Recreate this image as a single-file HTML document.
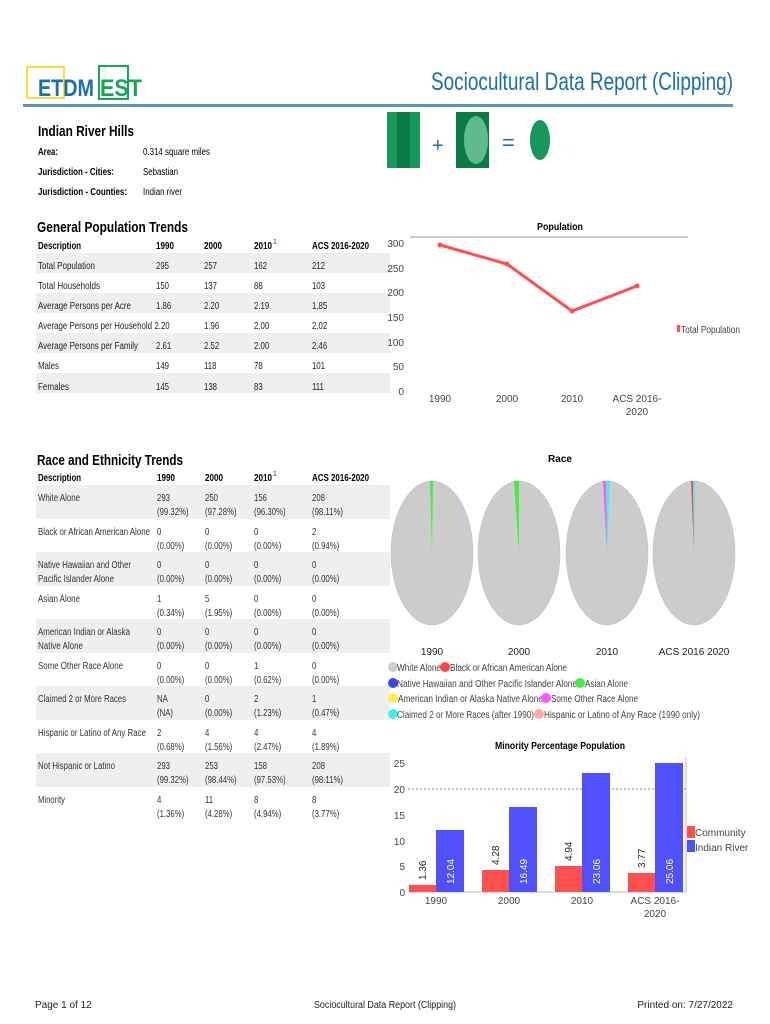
<!DOCTYPE html>
<html><head><meta charset="utf-8"><style>
html,body{margin:0;padding:0;background:#fff}
svg{display:block}
text{font-family:"Liberation Sans",sans-serif}
</style></head><body>
<svg width="770" height="1024" viewBox="0 0 770 1024" xmlns="http://www.w3.org/2000/svg">
<rect x="27" y="67" width="37" height="31" fill="none" stroke="#f5d000" stroke-width="1.5"/>
<text x="38" y="96" font-size="24" font-weight="bold" fill="#1b6fae" textLength="56" lengthAdjust="spacingAndGlyphs">ETDM</text>
<rect x="99" y="66" width="29" height="33" fill="none" stroke="#1aa35a" stroke-width="2"/>
<text x="100" y="96" font-size="24" font-weight="bold" fill="#1aa35a" textLength="42" lengthAdjust="spacingAndGlyphs">EST</text>
<text x="733" y="90" font-size="25" fill="#1b6fae" text-anchor="end" textLength="302" lengthAdjust="spacingAndGlyphs">Sociocultural Data Report (Clipping)</text>
<rect x="23" y="104" width="710" height="3" fill="#5b94bd"/>
<rect x="387" y="112" width="33" height="56" fill="#17975a"/>
<rect x="397" y="112" width="13" height="56" fill="#0c7a45"/>
<text x="432" y="152" font-size="20" fill="#1b6fae">+</text>
<rect x="456" y="112" width="33" height="56" fill="#0c7a45"/>
<ellipse cx="476" cy="140" rx="12" ry="24" fill="#5fba8c"/>
<text x="502" y="150" font-size="22" fill="#1b6fae">=</text>
<ellipse cx="540" cy="140" rx="10" ry="20" fill="#17975a"/>
<text x="38" y="136" font-size="15" font-weight="bold" textLength="96" lengthAdjust="spacingAndGlyphs">Indian River Hills</text>
<g font-size="10">
<text x="38" y="155" font-weight="bold" textLength="20" lengthAdjust="spacingAndGlyphs">Area:</text>
<text x="38" y="175" font-weight="bold" textLength="76" lengthAdjust="spacingAndGlyphs">Jurisdiction - Cities:</text>
<text x="38" y="195" font-weight="bold" textLength="89" lengthAdjust="spacingAndGlyphs">Jurisdiction - Counties:</text>
<text x="143" y="155" textLength="67" lengthAdjust="spacingAndGlyphs">0.314 square miles</text>
<text x="143" y="175" textLength="35" lengthAdjust="spacingAndGlyphs">Sebastian</text>
<text x="143" y="195" textLength="39" lengthAdjust="spacingAndGlyphs">Indian river</text>
</g>
<text x="37" y="232" font-size="15" font-weight="bold" textLength="151" lengthAdjust="spacingAndGlyphs">General Population Trends</text>
<g fill="#efefef">
<rect x="36" y="253" width="354" height="20"/><rect x="36" y="293" width="354" height="20"/><rect x="36" y="333" width="354" height="20"/><rect x="36" y="373" width="354" height="20"/>
</g>
<g font-size="10" font-weight="bold">
<text x="38" y="249" textLength="43" lengthAdjust="spacingAndGlyphs">Description</text>
<text x="156" y="249" textLength="18" lengthAdjust="spacingAndGlyphs">1990</text>
<text x="204" y="249" textLength="18" lengthAdjust="spacingAndGlyphs">2000</text>
<text x="254" y="249" textLength="18" lengthAdjust="spacingAndGlyphs">2010</text>
<text x="312" y="249" textLength="57" lengthAdjust="spacingAndGlyphs">ACS 2016-2020</text>
</g>
<text x="273" y="244" font-size="7" fill="#22f">1</text>
<g font-size="10" fill="#222">
<text x="38" y="269" textLength="57" lengthAdjust="spacingAndGlyphs">Total Population</text>
<text x="38" y="289" textLength="62" lengthAdjust="spacingAndGlyphs">Total Households</text>
<text x="38" y="309" textLength="93" lengthAdjust="spacingAndGlyphs">Average Persons per Acre</text>
<text x="38" y="329" textLength="114" lengthAdjust="spacingAndGlyphs">Average Persons per Household</text>
<text x="38" y="349" textLength="100" lengthAdjust="spacingAndGlyphs">Average Persons per Family</text>
<text x="38" y="369" textLength="21" lengthAdjust="spacingAndGlyphs">Males</text>
<text x="38" y="390" textLength="31" lengthAdjust="spacingAndGlyphs">Females</text>
<g transform="translate(156,0) scale(0.78,1)"><text y="269">295</text><text y="289">150</text><text y="309">1.86</text><text x="-2" y="329">2.20</text><text y="349">2.61</text><text y="369">149</text><text y="390">145</text></g>
<g transform="translate(204,0) scale(0.78,1)"><text y="269">257</text><text y="289">137</text><text y="309">2.20</text><text y="329">1.96</text><text y="349">2.52</text><text y="369">118</text><text y="390">138</text></g>
<g transform="translate(254,0) scale(0.78,1)"><text y="269">162</text><text y="289">88</text><text y="309">2.19</text><text y="329">2.00</text><text y="349">2.00</text><text y="369">78</text><text y="390">83</text></g>
<g transform="translate(312,0) scale(0.78,1)"><text y="269">212</text><text y="289">103</text><text y="309">1.85</text><text y="329">2.02</text><text y="349">2.46</text><text y="369">101</text><text y="390">111</text></g>
</g>
<text x="560" y="230" font-size="10" font-weight="bold" text-anchor="middle" textLength="46" lengthAdjust="spacingAndGlyphs">Population</text>
<line x1="410" y1="237" x2="688" y2="237" stroke="#999"/>
<g font-size="10" fill="#444" text-anchor="end">
<text x="404" y="247">300</text><text x="404" y="272">250</text><text x="404" y="296">200</text><text x="404" y="321">150</text><text x="404" y="346">100</text><text x="404" y="370">50</text><text x="404" y="395">0</text>
</g>
<polyline points="440,245 507,264 572,311 637,286" fill="none" stroke="#ff5050" stroke-width="3"/>
<g fill="#ff5050"><circle cx="440" cy="245" r="2.5"/><circle cx="507" cy="264" r="2.5"/><circle cx="572" cy="311" r="2.5"/><circle cx="637" cy="286" r="2.5"/></g>
<g font-size="10" fill="#444" text-anchor="middle">
<text x="440" y="402">1990</text><text x="507" y="402">2000</text><text x="572" y="402">2010</text><text x="637" y="402">ACS 2016-</text><text x="637" y="415">2020</text>
</g>
<rect x="677" y="325" width="3" height="7" fill="#ff5050"/>
<text x="681" y="333" font-size="10" fill="#444" textLength="59" lengthAdjust="spacingAndGlyphs">Total Population</text>
<text x="37" y="465" font-size="15" font-weight="bold" textLength="146" lengthAdjust="spacingAndGlyphs">Race and Ethnicity Trends</text>
<g font-size="10" font-weight="bold">
<text x="38" y="481" textLength="43" lengthAdjust="spacingAndGlyphs">Description</text>
<text x="157" y="481" textLength="18" lengthAdjust="spacingAndGlyphs">1990</text><text x="205" y="481" textLength="18" lengthAdjust="spacingAndGlyphs">2000</text><text x="254" y="481" textLength="18" lengthAdjust="spacingAndGlyphs">2010</text><text x="312" y="481" textLength="57" lengthAdjust="spacingAndGlyphs">ACS 2016-2020</text>
</g>
<text x="273" y="476" font-size="7" fill="#22f">1</text>
<g fill="#efefef">
<rect x="36" y="485" width="354" height="34"/><rect x="36" y="552" width="354" height="34"/><rect x="36" y="619" width="354" height="34"/><rect x="36" y="686" width="354" height="34"/><rect x="36" y="753" width="354" height="34"/>
</g>
<g font-size="10" fill="#333">
<text x="38" y="501" textLength="42" lengthAdjust="spacingAndGlyphs">White Alone</text>
<text x="38" y="535" textLength="112" lengthAdjust="spacingAndGlyphs">Black or African American Alone</text>
<text x="38" y="568" textLength="93" lengthAdjust="spacingAndGlyphs">Native Hawaiian and Other</text>
<text x="38" y="582" textLength="76" lengthAdjust="spacingAndGlyphs">Pacific Islander Alone</text>
<text x="38" y="602" textLength="42" lengthAdjust="spacingAndGlyphs">Asian Alone</text>
<text x="38" y="635" textLength="92" lengthAdjust="spacingAndGlyphs">American Indian or Alaska</text>
<text x="38" y="649" textLength="45" lengthAdjust="spacingAndGlyphs">Native Alone</text>
<text x="38" y="669" textLength="85" lengthAdjust="spacingAndGlyphs">Some Other Race Alone</text>
<text x="38" y="702" textLength="88" lengthAdjust="spacingAndGlyphs">Claimed 2 or More Races</text>
<text x="38" y="736" textLength="108" lengthAdjust="spacingAndGlyphs">Hispanic or Latino of Any Race</text>
<text x="38" y="769" textLength="77" lengthAdjust="spacingAndGlyphs">Not Hispanic or Latino</text>
<text x="38" y="803" textLength="27" lengthAdjust="spacingAndGlyphs">Minority</text>
<g transform="translate(157,0) scale(0.78,1)">
<text y="501">293</text><text y="515">(99.32%)</text><text y="535">0</text><text y="549">(0.00%)</text><text y="568">0</text><text y="582">(0.00%)</text><text y="602">1</text><text y="616">(0.34%)</text><text y="635">0</text><text y="649">(0.00%)</text><text y="669">0</text><text y="683">(0.00%)</text><text y="702">NA</text><text y="716">(NA)</text><text y="736">2</text><text y="750">(0.68%)</text><text y="769">293</text><text y="783">(99.32%)</text><text y="803">4</text><text y="817">(1.36%)</text></g>
<g transform="translate(205,0) scale(0.78,1)">
<text y="501">250</text><text y="515">(97.28%)</text><text y="535">0</text><text y="549">(0.00%)</text><text y="568">0</text><text y="582">(0.00%)</text><text y="602">5</text><text y="616">(1.95%)</text><text y="635">0</text><text y="649">(0.00%)</text><text y="669">0</text><text y="683">(0.00%)</text><text y="702">0</text><text y="716">(0.00%)</text><text y="736">4</text><text y="750">(1.56%)</text><text y="769">253</text><text y="783">(98.44%)</text><text y="803">11</text><text y="817">(4.28%)</text></g>
<g transform="translate(254,0) scale(0.78,1)">
<text y="501">156</text><text y="515">(96.30%)</text><text y="535">0</text><text y="549">(0.00%)</text><text y="568">0</text><text y="582">(0.00%)</text><text y="602">0</text><text y="616">(0.00%)</text><text y="635">0</text><text y="649">(0.00%)</text><text y="669">1</text><text y="683">(0.62%)</text><text y="702">2</text><text y="716">(1.23%)</text><text y="736">4</text><text y="750">(2.47%)</text><text y="769">158</text><text y="783">(97.53%)</text><text y="803">8</text><text y="817">(4.94%)</text></g>
<g transform="translate(312,0) scale(0.78,1)">
<text y="501">208</text><text y="515">(98.11%)</text><text y="535">2</text><text y="549">(0.94%)</text><text y="568">0</text><text y="582">(0.00%)</text><text y="602">0</text><text y="616">(0.00%)</text><text y="635">0</text><text y="649">(0.00%)</text><text y="669">0</text><text y="683">(0.00%)</text><text y="702">1</text><text y="716">(0.47%)</text><text y="736">4</text><text y="750">(1.89%)</text><text y="769">208</text><text y="783">(98.11%)</text><text y="803">8</text><text y="817">(3.77%)</text></g>
</g>
<text x="560" y="462" font-size="10" font-weight="bold" text-anchor="middle">Race</text>
<g fill="#cccccc" stroke="#bbb" stroke-width="0.5">
<ellipse cx="432" cy="553" rx="41" ry="72"/><ellipse cx="519" cy="553" rx="41" ry="72"/><ellipse cx="607" cy="553" rx="41" ry="72"/><ellipse cx="694" cy="553" rx="41" ry="72"/>
</g>
<polygon points="432,553 430,481 433,481" fill="#44ee44"/>
<polygon points="519,553 514,481 519,481" fill="#44ee44"/>
<polygon points="607,553 603,481 606,481" fill="#ff55ff"/><polygon points="607,553 606,481 610,481" fill="#44eeee"/>
<polygon points="694,553 691,481 693,481" fill="#ff4444"/><polygon points="694,553 693,481 695,481" fill="#44eeee"/>
<g font-size="10" fill="#222" text-anchor="middle">
<text x="432" y="655">1990</text><text x="519" y="655">2000</text><text x="607" y="655">2010</text><text x="694" y="655">ACS 2016 2020</text>
</g>
<g font-size="10" fill="#444">
<circle cx="393" cy="667" r="5" fill="#cccccc"/><text x="397" y="671" textLength="44" lengthAdjust="spacingAndGlyphs">White Alone</text>
<circle cx="445" cy="667" r="5" fill="#ff4444"/><text x="450" y="671" textLength="117" lengthAdjust="spacingAndGlyphs">Black or African American Alone</text>
<circle cx="393" cy="683" r="5" fill="#4444ee"/><text x="397" y="687" textLength="180" lengthAdjust="spacingAndGlyphs">Native Hawaiian and Other Pacific Islander Alone</text>
<circle cx="580" cy="683" r="5" fill="#44ee44"/><text x="585" y="687" textLength="43" lengthAdjust="spacingAndGlyphs">Asian Alone</text>
<circle cx="393" cy="698" r="5" fill="#ffee44"/><text x="398" y="702" textLength="145" lengthAdjust="spacingAndGlyphs">American Indian or Alaska Native Alone</text>
<circle cx="546" cy="698" r="5" fill="#ff55ff"/><text x="551" y="702" textLength="87" lengthAdjust="spacingAndGlyphs">Some Other Race Alone</text>
<circle cx="393" cy="714" r="5" fill="#44eeee"/><text x="397" y="718" textLength="137" lengthAdjust="spacingAndGlyphs">Claimed 2 or More Races (after 1990)</text>
<circle cx="539" cy="714" r="5" fill="#ffaaaa"/><text x="544" y="718" textLength="156" lengthAdjust="spacingAndGlyphs">Hispanic or Latino of Any Race (1990 only)</text>
</g>
<text x="560" y="749" font-size="10" font-weight="bold" text-anchor="middle" textLength="130" lengthAdjust="spacingAndGlyphs">Minority Percentage Population</text>
<g font-size="10" fill="#444" text-anchor="end">
<text x="405" y="767">25</text><text x="405" y="793">20</text><text x="405" y="819">15</text><text x="405" y="845">10</text><text x="405" y="870">5</text><text x="405" y="896">0</text>
</g>
<line x1="408" y1="789" x2="686" y2="789" stroke="#888" stroke-dasharray="2,2"/>
<line x1="686" y1="757" x2="686" y2="892" stroke="#bbb"/>
<line x1="408" y1="892" x2="686" y2="892" stroke="#bbb"/>
<g fill="#ff5050">
<rect x="409" y="885" width="27" height="7"/><rect x="482" y="870" width="27" height="22"/><rect x="555" y="866" width="27" height="26"/><rect x="628" y="873" width="27" height="19"/>
</g>
<g fill="#5050ff">
<rect x="436" y="830" width="28" height="62"/><rect x="509" y="807" width="28" height="85"/><rect x="582" y="773" width="28" height="119"/><rect x="655" y="763" width="28" height="129"/>
</g>
<g font-size="10" fill="#222" font-family="DejaVu Sans,sans-serif">
<text transform="translate(426,880) rotate(-90)">1.36</text>
<text transform="translate(499,865) rotate(-90)">4.28</text>
<text transform="translate(572,861) rotate(-90)">4.94</text>
<text transform="translate(645,868) rotate(-90)">3.77</text>
</g>
<g font-size="10" fill="#fff" font-family="DejaVu Sans,sans-serif">
<text transform="translate(454,884) rotate(-90)">12.04</text>
<text transform="translate(527,884) rotate(-90)">16.49</text>
<text transform="translate(600,884) rotate(-90)">23.06</text>
<text transform="translate(673,884) rotate(-90)">25.06</text>
</g>
<g font-size="10" fill="#444" text-anchor="middle">
<text x="436" y="904">1990</text><text x="509" y="904">2000</text><text x="582" y="904">2010</text><text x="655" y="904">ACS 2016-</text><text x="655" y="917">2020</text>
</g>
<rect x="687" y="826" width="8" height="12" fill="#ff5050"/><text x="695" y="836" font-size="10" fill="#444">Community</text>
<rect x="687" y="840" width="8" height="12" fill="#5050ff"/><text x="695" y="851" font-size="10" fill="#444">Indian River</text>
<g font-size="10" fill="#222">
<text x="35" y="1008">Page 1 of 12</text>
<text x="385" y="1008" text-anchor="middle" textLength="142" lengthAdjust="spacingAndGlyphs">Sociocultural Data Report (Clipping)</text>
<text x="733" y="1008" text-anchor="end">Printed on: 7/27/2022</text>
</g>
</svg>
</body></html>
